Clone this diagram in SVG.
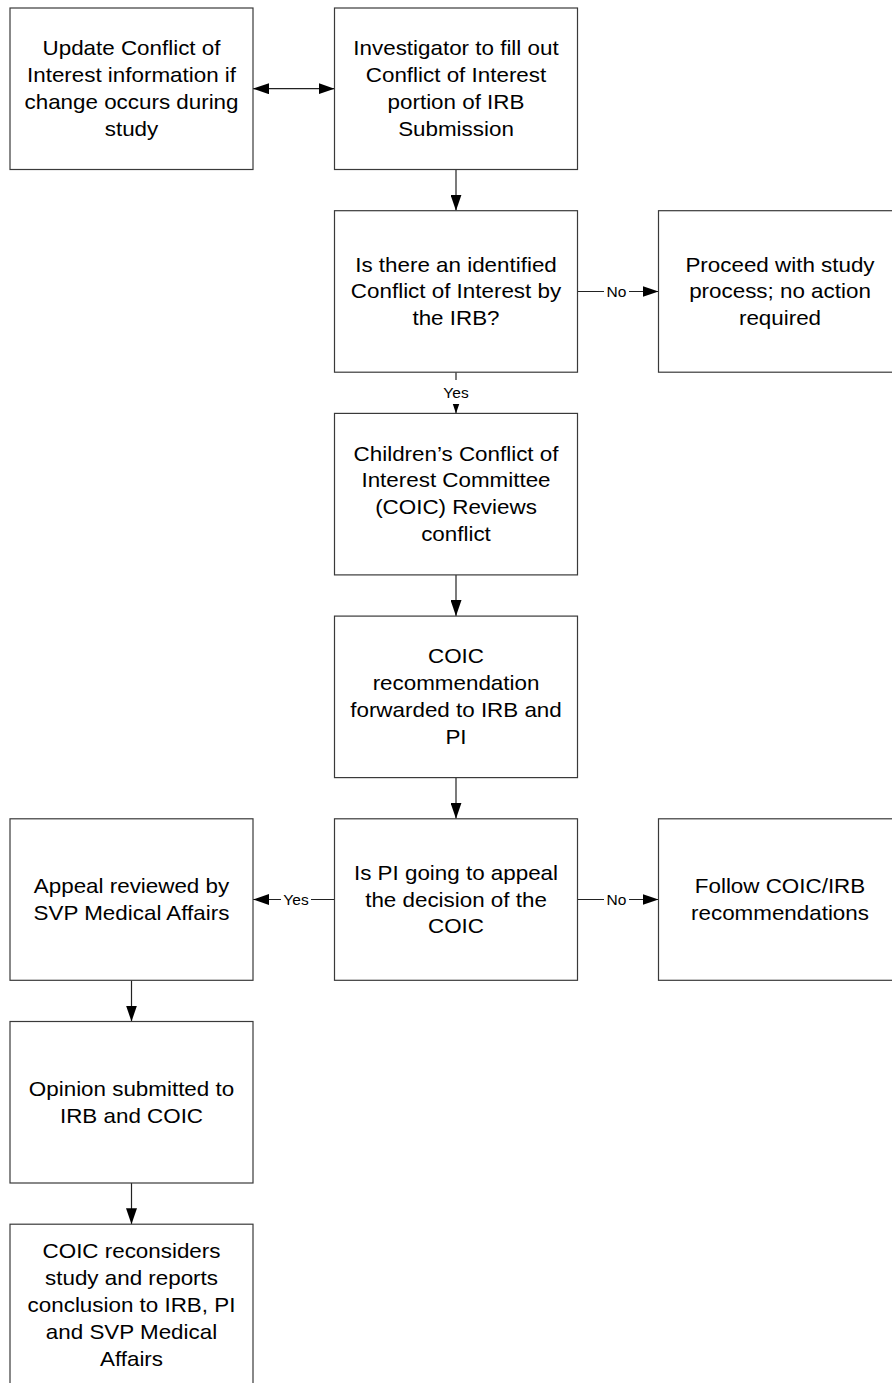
<svg xmlns="http://www.w3.org/2000/svg" width="892" height="1383" viewBox="0 0 892 1383">
<style>
.box{fill:#fff;stroke:#3a3a3a;stroke-width:1.2}
.t{font-family:"Liberation Sans",Arial,sans-serif;font-size:20px;fill:#000;text-anchor:middle}
.lbl{font-family:"Liberation Sans",Arial,sans-serif;font-size:15.5px;fill:#000;text-anchor:middle}
.c{fill:none;stroke:#222;stroke-width:1.2}
.bg{fill:#fff}
</style>
<defs>
<marker id="ah" viewBox="0 0 16 11" refX="16" refY="5.5" markerWidth="16" markerHeight="11" markerUnits="userSpaceOnUse" orient="auto-start-reverse">
<path d="M0,0 L16,5.5 L0,11 z" fill="#000"/>
</marker>
</defs>
<rect width="892" height="1383" fill="#fff"/>
<g id="connectors">
<path class="c" d="M253,88.7 L334.5,88.7" marker-start="url(#ah)" marker-end="url(#ah)"/>
<path class="c" d="M456,169.5 L456,210.7" marker-end="url(#ah)"/>
<path class="c" d="M577.5,291.5 L658.5,291.5" marker-end="url(#ah)"/>
<rect class="bg" x="604" y="282" width="25" height="19"/>
<text class="lbl" x="616.5" y="297">No</text>
<path class="c" d="M456,372.2 L456,413.4" marker-end="url(#ah)"/>
<rect class="bg" x="440" y="380" width="32" height="24"/>
<text class="lbl" x="456" y="398">Yes</text>
<path class="c" d="M456,574.9 L456,616.1" marker-end="url(#ah)"/>
<path class="c" d="M456,777.6 L456,818.8" marker-end="url(#ah)"/>
<path class="c" d="M334.5,899.5 L253,899.5" marker-end="url(#ah)"/>
<rect class="bg" x="281" y="890" width="30" height="19"/>
<text class="lbl" x="296" y="905">Yes</text>
<path class="c" d="M577.5,899.5 L658.5,899.5" marker-end="url(#ah)"/>
<rect class="bg" x="604" y="890" width="25" height="19"/>
<text class="lbl" x="616.5" y="905">No</text>
<path class="c" d="M131.5,980.3 L131.5,1021.5" marker-end="url(#ah)"/>
<path class="c" d="M131.5,1183 L131.5,1224.2" marker-end="url(#ah)"/>
</g>
<g id="n1">
<rect class="box" x="10" y="8" width="243" height="161.5"/>
<text class="t" transform="translate(131.5 0) scale(1.12 1)" y="55.3"><tspan x="0">Update Conflict of</tspan><tspan x="0" dy="26.8">Interest information if</tspan><tspan x="0" dy="26.8">change occurs during</tspan><tspan x="0" dy="26.8">study</tspan></text>
</g>
<g id="n2">
<rect class="box" x="334.5" y="8" width="243" height="161.5"/>
<text class="t" transform="translate(456 0) scale(1.12 1)" y="55.3"><tspan x="0">Investigator to fill out</tspan><tspan x="0" dy="26.8">Conflict of Interest</tspan><tspan x="0" dy="26.8">portion of IRB</tspan><tspan x="0" dy="26.8">Submission</tspan></text>
</g>
<g id="n3">
<rect class="box" x="334.5" y="210.7" width="243" height="161.5"/>
<text class="t" transform="translate(456 0) scale(1.12 1)" y="271.7"><tspan x="0">Is there an identified</tspan><tspan x="0" dy="26.8">Conflict of Interest by</tspan><tspan x="0" dy="26.8">the IRB?</tspan></text>
</g>
<g id="n4">
<rect class="box" x="658.5" y="210.7" width="243" height="161.5"/>
<text class="t" transform="translate(780 0) scale(1.12 1)" y="271.7"><tspan x="0">Proceed with study</tspan><tspan x="0" dy="26.8">process; no action</tspan><tspan x="0" dy="26.8">required</tspan></text>
</g>
<g id="n5">
<rect class="box" x="334.5" y="413.4" width="243" height="161.5"/>
<text class="t" transform="translate(456 0) scale(1.12 1)" y="460.7"><tspan x="0">Children’s Conflict of</tspan><tspan x="0" dy="26.8">Interest Committee</tspan><tspan x="0" dy="26.8">(COIC) Reviews</tspan><tspan x="0" dy="26.8">conflict</tspan></text>
</g>
<g id="n6">
<rect class="box" x="334.5" y="616.1" width="243" height="161.5"/>
<text class="t" transform="translate(456 0) scale(1.12 1)" y="663.4"><tspan x="0">COIC</tspan><tspan x="0" dy="26.8">recommendation</tspan><tspan x="0" dy="26.8">forwarded to IRB and</tspan><tspan x="0" dy="26.8">PI</tspan></text>
</g>
<g id="n7">
<rect class="box" x="334.5" y="818.8" width="243" height="161.5"/>
<text class="t" transform="translate(456 0) scale(1.12 1)" y="879.8"><tspan x="0">Is PI going to appeal</tspan><tspan x="0" dy="26.8">the decision of the</tspan><tspan x="0" dy="26.8">COIC</tspan></text>
</g>
<g id="n8">
<rect class="box" x="10" y="818.8" width="243" height="161.5"/>
<text class="t" transform="translate(131.5 0) scale(1.12 1)" y="893.2"><tspan x="0">Appeal reviewed by</tspan><tspan x="0" dy="26.8">SVP Medical Affairs</tspan></text>
</g>
<g id="n9">
<rect class="box" x="658.5" y="818.8" width="243" height="161.5"/>
<text class="t" transform="translate(780 0) scale(1.12 1)" y="893.2"><tspan x="0">Follow COIC/IRB</tspan><tspan x="0" dy="26.8">recommendations</tspan></text>
</g>
<g id="n10">
<rect class="box" x="10" y="1021.5" width="243" height="161.5"/>
<text class="t" transform="translate(131.5 0) scale(1.12 1)" y="1095.9"><tspan x="0">Opinion submitted to</tspan><tspan x="0" dy="26.8">IRB and COIC</tspan></text>
</g>
<g id="n11">
<rect class="box" x="10" y="1224.2" width="243" height="161.5"/>
<text class="t" transform="translate(131.5 0) scale(1.12 1)" y="1258.4"><tspan x="0">COIC reconsiders</tspan><tspan x="0" dy="26.8">study and reports</tspan><tspan x="0" dy="26.8">conclusion to IRB, PI</tspan><tspan x="0" dy="26.8">and SVP Medical</tspan><tspan x="0" dy="26.8">Affairs</tspan></text>
</g>
</svg>
